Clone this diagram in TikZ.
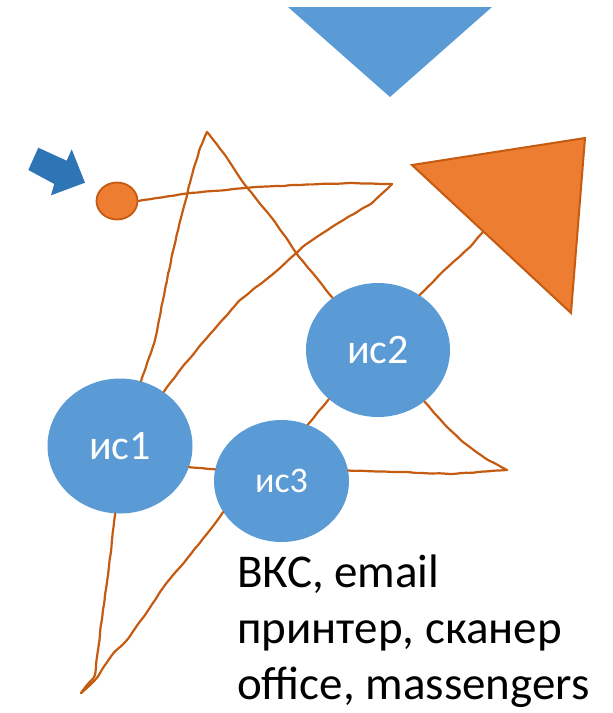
\documentclass[tikz,border=0pt]{standalone}
\usepackage{fontspec}
\setmainfont{Carlito}
\usetikzlibrary{shapes.geometric,decorations.pathmorphing}
\definecolor{cblue}{HTML}{5B9BD5}
\definecolor{dblue}{HTML}{2E75B6}
\definecolor{corange}{HTML}{ED7D31}
\definecolor{lorange}{HTML}{C55A11}
\tikzset{
  isnode/.style={ellipse, fill=cblue, inner sep=0pt, text=white},
  ink/.style={draw=lorange, line width=2.2pt, line join=round, line cap=round,
    decorate, decoration={random steps, segment length=6pt, amplitude=0.4pt}, rounded corners=2pt},
  lbl/.style={anchor=base west, inner sep=0pt, font=\fontsize{47}{52}\selectfont}
}
\begin{document}
\begin{tikzpicture}[x=1pt,y=-1pt]
\useasboundingbox (0,0) rectangle (613,713);
% blue triangle
\fill[cblue] (288,7) -- (492,7) -- (390,97) -- cycle;
% orange triangle
\filldraw[fill=corange, draw=lorange, line width=2pt, line join=miter]
  (412,165) -- (585,138) -- (571,313) -- cycle;
\coordinate (triedge) at (483,232);
% blue arrow
\fill[dblue] (28.3,170) -- (38.3,147.7) -- (66.7,160.7) -- (71.7,149.3) -- (85,182.7)
  -- (51,195.3) -- (54.3,184) -- cycle;
% nodes
\node[ellipse, fill=corange, draw=lorange, line width=1.8pt, minimum width=41pt, minimum height=37pt, inner sep=0pt] (dot) at (117,201) {};
\node[isnode, minimum width=145pt, minimum height=135pt, font=\fontsize{42}{42}\selectfont] (is1) at (120,446) {ис1};
\node[isnode, minimum width=144pt, minimum height=134pt, font=\fontsize{42}{42}\selectfont] (is2) at (378,350) {ис2};
\node[isnode, minimum width=135pt, minimum height=122pt, font=\fontsize{36}{36}\selectfont] (is3) at (281.5,481) {ис3};
\coordinate (c1) at (392,184);
\coordinate (c2) at (507,470);
\coordinate (c3) at (207,132);
\coordinate (c4) at (81,693);
% hand-drawn connectors
\draw[ink] (dot.east) -- (190,193) -- (245,188) -- (300,185) -- (350,183) -- (c1);
\draw[ink] (c1) -- (372,203) -- (340,222) -- (305,245) -- (280,268) -- (240,300) -- (205,340) -- (180,370) -- (is1.51);
\draw[ink] (is1.-17) -- (is3.170);
\draw[ink] (is3.9) -- (400,472) -- (450,474) -- (c2);
\draw[ink] (c2) -- (488,460) -- (463,442) -- (447,427) -- (is2.-48);
\draw[ink] (is2.131) -- (320,282) -- (300,258) -- (275,222) -- (245,185) -- (225,155) -- (c3);
\draw[ink] (c3) -- (200,148) -- (192,175) -- (183,210) -- (172,255) -- (163,300) -- (155,340) -- (is1.72);
\draw[ink] (is1.-94) -- (112,540) -- (108,575) -- (103,610) -- (98,650) -- (95,675) -- (c4);
\draw[ink] (c4) -- (95,680) -- (112,655) -- (127,640) -- (145,615) -- (165,585) -- (190,555) -- (210,530) -- (is3.-152);
\draw[ink] (is3.65) -- (is2.-135);
\draw[ink] (is2.53) -- (450,265) -- (470,247) -- (triedge);
% text
\node[lbl] (t1) at (237,587) {ВКС, email};
\node[lbl] (t2) at (237,643) {принтер, сканер};
\node[lbl] (t3) at (237,699) {office, massengers};
\end{tikzpicture}
\end{document}
